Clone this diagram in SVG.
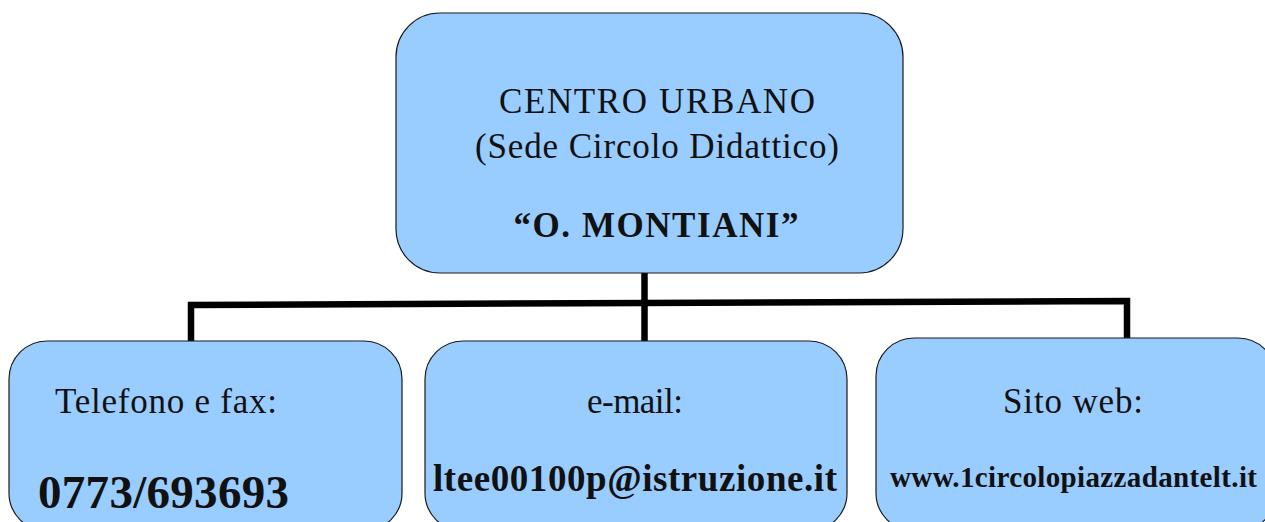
<svg xmlns="http://www.w3.org/2000/svg" width="1265" height="522" viewBox="0 0 1265 522">
<style>
.box{fill:#99ccff;stroke:#1a1a1a;stroke-width:1.2}
.t{font-family:"Liberation Serif","Times New Roman",serif;fill:#111;font-size:35px}
.b{font-weight:bold}
.c{text-anchor:middle}
.conn{fill:none;stroke:#000;stroke-width:6.5;stroke-linecap:square}
</style>
<rect width="1265" height="522" fill="#fff"/>
<g id="connectors">
<line class="conn" x1="644.5" y1="274" x2="644.5" y2="340"/>
<polyline class="conn" points="191,340 191,305 644.5,303"/>
<polyline class="conn" points="644.5,303 1127,301 1127,337"/>
</g>
<g id="node-centro">
<rect class="box" x="396" y="13" width="507" height="260" rx="44" ry="44"/>
<text class="t c" x="657" y="113" textLength="316" lengthAdjust="spacing">CENTRO URBANO</text>
<text class="t c" x="657" y="158" textLength="364" lengthAdjust="spacing">(Sede Circolo Didattico)</text>
<text class="t b c" x="656" y="237" textLength="285" lengthAdjust="spacing">“O. MONTIANI”</text>
</g>
<g id="node-telefono">
<rect class="box" x="9" y="341" width="393" height="190" rx="38" ry="38"/>
<text class="t" x="55" y="413" textLength="222" lengthAdjust="spacing">Telefono e fax:</text>
<text class="t b" x="38" y="508" font-size="47" textLength="251" lengthAdjust="spacing" style="font-size:47px">0773/693693</text>
</g>
<g id="node-email">
<rect class="box" x="425" y="341" width="422" height="190" rx="38" ry="38"/>
<text class="t c" x="635" y="413" textLength="96" lengthAdjust="spacing">e-mail:</text>
<text class="t b" x="433" y="491" style="font-size:37px" textLength="404" lengthAdjust="spacing">ltee00100p@istruzione.it</text>
</g>
<g id="node-sito">
<rect class="box" x="876" y="338" width="400" height="193" rx="38" ry="38"/>
<text class="t c" x="1073" y="413" textLength="140" lengthAdjust="spacing">Sito web:</text>
<text class="t b" x="890" y="487" style="font-size:29px" textLength="367" lengthAdjust="spacing">www.1circolopiazzadantelt.it</text>
</g>
</svg>
